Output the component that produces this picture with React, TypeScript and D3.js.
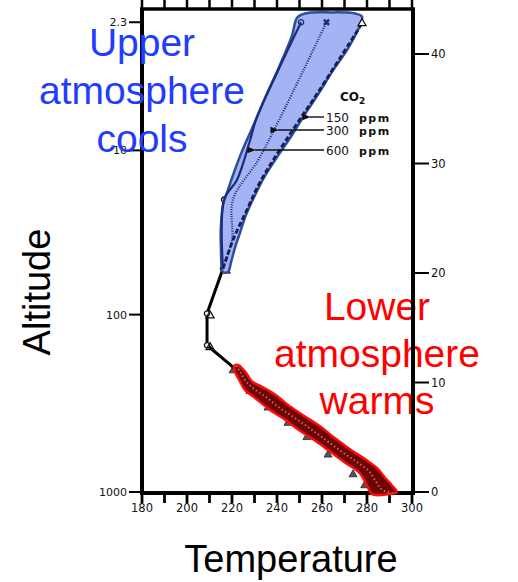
import * as d3 from 'd3';

// temperature (K) along the bottom / top
const tempLabels = [180, 200, 220, 240, 260, 280, 300];
const tempMinor = [190, 210, 230, 250, 270, 290];
// altitude (km) on the right
const altLabels = [0, 10, 20, 30, 40];
// pressure (mb) on the left and the altitude it sits at
const pressLabels = ['1000', '100', '10', '2.3'];
const pressAlt = [0, 16.2, 31.2, 42.9];

// troposphere markers (triangles)
const tropoT = [279, 273.8, 262.7, 253.3, 244.9, 236, 228, 220.5];
const tropoAlt = [0.6, 1.6, 3.4, 5.0, 6.3, 7.7, 9.2, 11.1];
// lower stratosphere (all three runs overlap)
const lowT = [222.2, 208.9, 208.9, 216, 216.5];
const lowAlt = [11.1, 13.4, 16.3, 20.4, 26.7];

// upper runs, by CO2 amount
const co2_600_T = [216, 216.5, 222.2, 228, 230.7, 240.5, 250.7];
const co2_600_Alt = [20.4, 26.7, 28.5, 32.1, 34, 38.5, 42.9];
const co2_300_T = [216, 220, 220.4, 231.6, 241, 262];
const co2_300_Alt = [20.4, 23, 26.7, 30.3, 34, 42.9];
const co2_150_T = [216, 220.4, 226.7, 233, 250, 256, 277.8];
const co2_150_Alt = [20.4, 23, 25.8, 28.5, 34, 35.8, 42.8];

// hand drawn highlight around the upper runs
const blueT = [277.8, 272.4, 264.9, 258.2, 252.4, 246.7, 240.4, 234.7, 230.2, 226.2, 223.6, 221.3, 219.6, 218.2,
  216.0, 215.1, 215.1, 216.0, 218.2, 220.9, 224.4, 228.9, 234.7, 241.3, 246.7, 248.9, 252.4, 263.6, 274.7];
const blueAlt = [43.4, 40.8, 38.5, 36.3, 34.5, 32.6, 30.7, 28.9, 27.1, 25.3, 23.7, 22.3, 21.0, 20.1,
  20.1, 22.1, 24.4, 26.2, 27.6, 29.2, 31.1, 33.2, 36.0, 39.0, 41.7, 43.3, 43.7, 43.8, 43.7];

// hand drawn highlight around the lower runs
const redTopT = [222.7, 225.8, 228.9, 233.3, 239.1, 245.8, 252.4, 259.1, 265.8, 272.4, 279.1, 284.4, 288.0, 291.1, 293.3];
const redTopAlt = [11.6, 11.0, 10.1, 9.6, 8.9, 7.8, 6.9, 6.0, 4.9, 3.9, 3.0, 2.2, 1.3, 0.6, 0.0];
const redBotT = [289.3, 282.2, 280.0, 276.9, 270.2, 263.6, 256.9, 250.2, 243.6, 236.9, 230.2, 225.8, 223.6, 221.3, 220.9];
const redBotAlt = [-0.2, -0.2, 0.6, 1.7, 2.7, 3.7, 4.7, 5.6, 6.6, 7.5, 8.6, 9.3, 10.1, 11.0, 11.5];

const co2Levels = ['150', '300', '600'];

const zip = (a: number[], b: number[]) => a.map((v, i) => [v, b[i]] as [number, number]);

export default function App() {
  const width = 518;
  const height = 582;

  const x = d3.scaleLinear().domain([180, 300]).range([142, 412]);
  const y = d3.scaleLinear().domain([0, 40]).range([492, 54]);

  const frameTop = 9;
  const frameBottom = 493;

  const line = d3.line<[number, number]>().x(d => x(d[0])).y(d => y(d[1]));
  const blob = d3.line<[number, number]>().x(d => x(d[0])).y(d => y(d[1])).curve(d3.curveCatmullRomClosed.alpha(0.5));
  const smooth = d3.line<[number, number]>().x(d => x(d[0])).y(d => y(d[1])).curve(d3.curveCatmullRom.alpha(0.5));

  const tri = d3.symbol().type(d3.symbolTriangle).size(28)()!;
  const circ = d3.symbol().type(d3.symbolCircle).size(22)()!;
  const cross = d3.symbol().type(d3.symbolCross).size(30)()!;

  const redOutline = [...zip(redTopT, redTopAlt), ...zip(redBotT, redBotAlt)];
  const redMid = redTopT.map((t, i) => [
    (t + redBotT[redBotT.length - 1 - i]) / 2,
    (redTopAlt[i] + redBotAlt[redBotAlt.length - 1 - i]) / 2,
  ] as [number, number]);

  const axisFont = "'DejaVu Sans', Verdana, sans-serif";
  const bigFont = "'Liberation Sans', Arial, sans-serif";

  // legend rows, arrows point left toward each run
  const legendY = [117, 130, 150];
  const arrowTip = [307, 275, 252];

  return (
    <svg width={width} height={height} style={{ position: 'absolute', left: 0, top: 0, background: '#fff' }}
      fontFamily={axisFont}>
      <defs>
        <marker id="ah" viewBox="0 0 10 10" refX="1" refY="5" markerWidth="7" markerHeight="6" orient="auto-start-reverse">
          <path d="M0,5 L10,1 L10,9 Z" fill="#111" />
        </marker>
      </defs>

      {/* bottom ticks + labels */}
      {[...tempLabels, ...tempMinor].map(t => (
        <g key={'bt' + t}>
          <line x1={x(t)} x2={x(t)} y1={frameBottom} y2={frameBottom + 10} stroke="#000" strokeWidth={2.8} />
          <line x1={x(t)} x2={x(t)} y1={0} y2={frameTop} stroke="#000" strokeWidth={2.5} />
        </g>
      ))}
      {tempLabels.map(t => (
        <text key={'bl' + t} x={x(t)} y={512} fontSize={11.5} textAnchor="middle" fill="#111">{t}</text>
      ))}

      {/* right altitude axis */}
      {altLabels.map(a => (
        <g key={'ra' + a}>
          <line x1={413} x2={429} y1={y(a)} y2={y(a)} stroke="#000" strokeWidth={2} />
          <text x={431} y={y(a) + 4} fontSize={11.5} fill="#111">{a}</text>
        </g>
      ))}

      {/* left pressure axis */}
      {pressLabels.map((p, i) => (
        <g key={'lp' + p}>
          <line x1={129} x2={142} y1={y(pressAlt[i])} y2={y(pressAlt[i])} stroke="#000" strokeWidth={2} />
          <text x={127} y={y(pressAlt[i]) + 4} fontSize={11} textAnchor="end" fill="#111">{p}</text>
        </g>
      ))}

      {/* frame */}
      <line x1={142} x2={142} y1={frameTop - 1} y2={frameBottom + 2} stroke="#000" strokeWidth={4} />
      <line x1={140} x2={415} y1={frameTop} y2={frameTop} stroke="#000" strokeWidth={3.5} />
      <line x1={140} x2={415} y1={frameBottom} y2={frameBottom} stroke="#000" strokeWidth={4} />

      {/* troposphere runs: line runs under the highlight, triangles peek out below it */}
      <path d={smooth(redMid)!} fill="none" stroke="#000" strokeWidth={3} />
      {tropoT.map((t, i) => (
        <path key={'tt' + i} d={tri} transform={`translate(${x(t)},${y(tropoAlt[i])})`} fill="#555" stroke="#222" strokeWidth={0.8} />
      ))}

      {/* lower stratosphere */}
      <path d={line(zip(lowT, lowAlt))!} fill="none" stroke="#000" strokeWidth={3} />
      {lowT.slice(1).map((t, i) => (
        <g key={'lm' + i} transform={`translate(${x(t)},${y(lowAlt[i + 1])})`}>
          <path d={circ} fill="#fff" stroke="#111" strokeWidth={1.3} />
          {i < 3 && <path d={tri} fill="none" stroke="#111" strokeWidth={1.2} transform="translate(3,2)" />}
        </g>
      ))}

      {/* upper highlight */}
      <path d={blob(zip(blueT, blueAlt))!} fill="#a3b3f4" stroke="#2f4f9e" strokeWidth={2.5} />

      {/* upper runs */}
      <path d={smooth(zip(co2_600_T, co2_600_Alt))!} fill="none" stroke="#1d2c78" strokeWidth={2.2} />
      <path d={smooth(zip(co2_300_T, co2_300_Alt))!} fill="none" stroke="#1d2c78" strokeWidth={2.2} strokeDasharray="1 1.4" />
      <path d={smooth(zip(co2_150_T, co2_150_Alt))!} fill="none" stroke="#151f55" strokeWidth={2.8} strokeDasharray="5 2.5" />
      <path d={circ} transform={`translate(${x(co2_600_T[6])},${y(co2_600_Alt[6])})`} fill="none" stroke="#1d2c78" strokeWidth={1.3} />
      <path d={cross} transform={`translate(${x(co2_300_T[5])},${y(co2_300_Alt[5])}) rotate(45)`} fill="#1d2c78" />
      <path d={tri} transform={`translate(${x(co2_150_T[6])},${y(co2_150_Alt[6])})`} fill="#fff" stroke="#111" strokeWidth={1.2} />

      {/* CO2 legend */}
      <text x={340} y={101} fontSize={12} fontWeight="bold" fill="#111">
        CO<tspan fontSize={9} dy={3}>2</tspan>
      </text>
      {co2Levels.map((c, i) => (
        <g key={'lg' + c}>
          <line x1={324} x2={arrowTip[i] + 3} y1={legendY[i]} y2={legendY[i]} stroke="#111" strokeWidth={1.4} markerEnd="url(#ah)" />
          <text x={326} y={legendY[i] + 4.5} fontSize={12} fill="#111">{c}</text>
          <text x={359} y={legendY[i] + 4.5} fontSize={11} fontWeight="bold" letterSpacing={1.5} fill="#111">ppm</text>
        </g>
      ))}

      {/* lower highlight */}
      <path d={blob(redOutline)!} fill="#6e0404" stroke="#ff0a0a" strokeWidth={2.5} />
      <path d={smooth(redMid)!} fill="none" stroke="#e39090" strokeWidth={2} strokeDasharray="1.5 2.5" opacity={0.7} />

      {/* annotations */}
      <g fontFamily={bigFont} fontSize={39} fill="#ff0000" textAnchor="middle">
        <text x={377} y={320}>Lower</text>
        <text x={377} y={367}>atmosphere</text>
        <text x={377} y={414}>warms</text>
      </g>
      <line x1={413} x2={413} y1={frameTop - 1} y2={frameBottom + 2} stroke="#000" strokeWidth={4} />

      <g fontFamily={bigFont} fontSize={39} fill="#1f3cff" textAnchor="middle">
        <text x={142} y={56}>Upper</text>
        <text x={142} y={104}>atmosphere</text>
        <text x={142} y={152}>cools</text>
      </g>

      <text x={291} y={572} fontFamily={bigFont} fontSize={38} textAnchor="middle" fill="#000">Temperature</text>
      <text transform="translate(50,292) rotate(-90)" fontFamily={bigFont} fontSize={38} textAnchor="middle" fill="#000">Altitude</text>
    </svg>
  );
}
